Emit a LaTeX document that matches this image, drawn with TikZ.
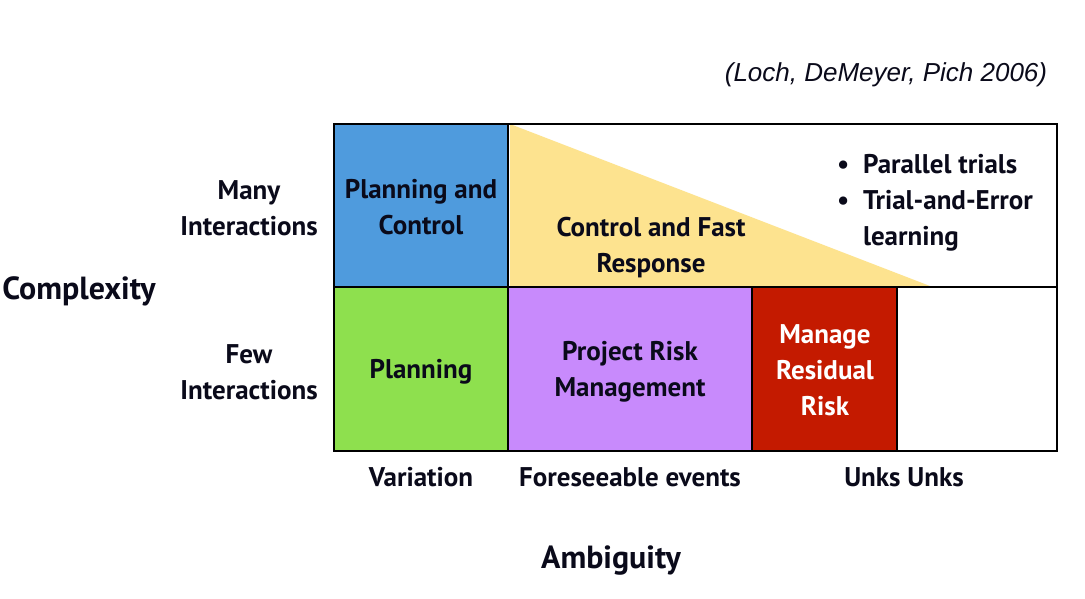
\documentclass[tikz,border=0pt]{standalone}
\usepackage{fontspec}
\setmainfont{PT Sans}
\newfontfamily\citefont{Liberation Sans}
\definecolor{cblue}{HTML}{4F9BDD}
\definecolor{cgreen}{HTML}{8EE04E}
\definecolor{cpurple}{HTML}{C88AFC}
\definecolor{cred}{HTML}{C41A00}
\definecolor{cyellow}{HTML}{FDE38F}
\definecolor{ctext}{HTML}{0A0A1A}
\begin{document}
\begin{tikzpicture}[x=1pt,y=-1pt,
  lbl/.style={font=\bfseries\fontsize{27}{36}\selectfont, text=ctext, align=center, inner sep=0pt},
  big/.style={font=\bfseries\fontsize{32}{36}\selectfont, text=ctext, inner sep=0pt},
  cell/.style={draw=black, line width=2.2pt}]
\useasboundingbox (0,0) rectangle (1085,598);
\fill[white] (0,0) rectangle (1085,598);
% cells
\fill[white] (508,124) rectangle (1057,287);
\fill[cyellow] (510,124) -- (930,286) -- (510,286) -- cycle;
\draw[cell, fill=cblue] (334,124) rectangle (508,287);
\draw[cell, fill=cgreen] (334,287) rectangle (508,451);
\draw[cell, fill=cpurple] (508,287) rectangle (752,451);
\draw[cell, fill=cred] (752,287) rectangle (897,451);
\draw[black, line width=2.2pt] (508,124) -- (1057,124) -- (1057,451) -- (897,451);
\draw[black, line width=2.2pt] (508,287) -- (1057,287);
% labels
\node[lbl] (pc) at (421,207) {Planning and\\Control};
\node[lbl] (cfr) at (651,248) {Control and Fast\\Response};
\node[lbl, align=left, anchor=west] (trials) at (837,203) {\textbullet\ \ Parallel trials\\\textbullet\ \ Trial-and-Error\\\phantom{\textbullet\ \ }learning};
\node[lbl] (pl) at (421,372) {Planning};
\node[lbl] (prm) at (630,372) {Project Risk\\Management};
\node[lbl, text=white] (mrr) at (825,370) {Manage\\Residual\\Risk};
\node[lbl] (many) at (249,208) {Many\\Interactions};
\node[lbl] (few) at (249,372) {Few\\Interactions};
\node[big] (cx) at (79,291) {Complexity};
\node[lbl] (var) at (421,477) {Variation};
\node[lbl] (fe) at (630,477) {Foreseeable events};
\node[lbl] (uu) at (904,477) {Unks Unks};
\node[big] (amb) at (611,561) {Ambiguity};
\node[inner sep=0pt, text=ctext, font=\citefont\itshape\fontsize{26}{30}\selectfont] (cite) at (886,75) {(Loch, DeMeyer, Pich 2006)};
\end{tikzpicture}
\end{document}
